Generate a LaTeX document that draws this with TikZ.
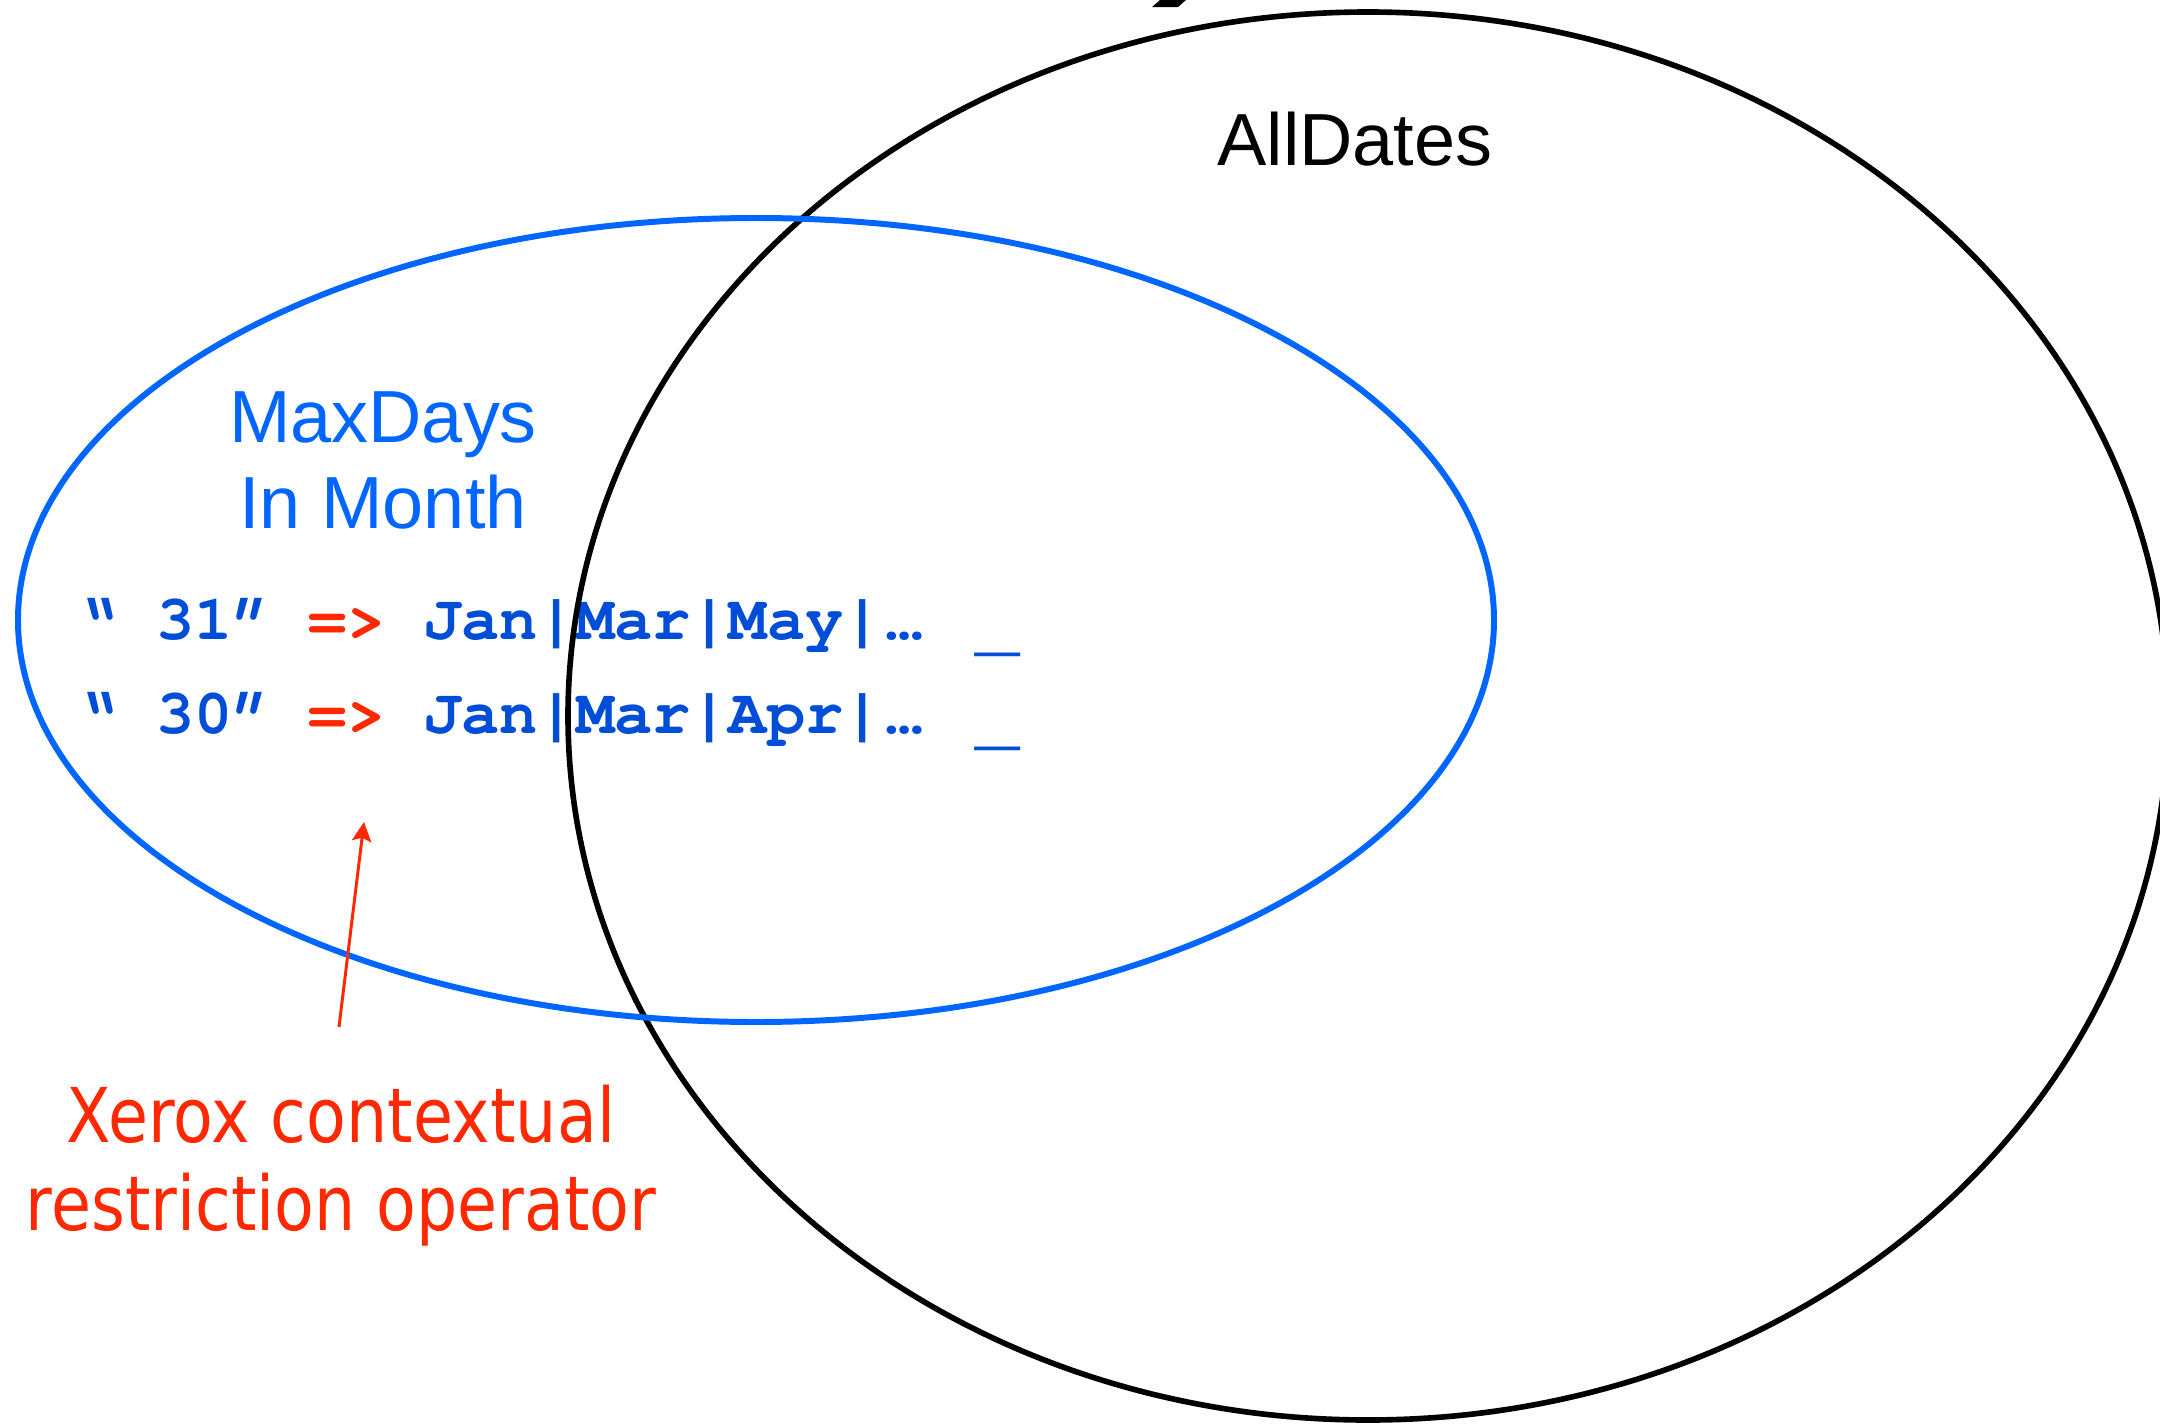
\documentclass[tikz,border=0pt]{standalone}
\usepackage{fontspec}
\setmainfont{Liberation Sans}
\newfontfamily\codefont{TeX Gyre Cursor}
\newfontfamily\notefont[FakeStretch=0.86]{DejaVu Sans}
\usetikzlibrary{arrows.meta}
\definecolor{setblue}{RGB}{0,102,255}
\definecolor{codeblue}{RGB}{0,78,216}
\definecolor{oprred}{RGB}{255,40,0}
\newcommand{\lowbar}{\raisebox{-2.5pt}{\fontsize{21}{21}\selectfont\_}}

\begin{document}
\begin{tikzpicture}[x=0.01cm, y=-0.01cm,
    setlabel/.style={inner sep=0pt, anchor=base, align=center, font=\fontsize{21}{24.2}\selectfont},
    codeline/.style={inner sep=0pt, anchor=base west, text=codeblue, font=\codefont\bfseries\fontsize{18.1}{20}\selectfont},
    notelabel/.style={inner sep=0pt, anchor=base, align=center, text=oprred, font=\notefont\fontsize{21.5}{24.75}\selectfont}]

    \useasboundingbox (0,0) rectangle (2160,1424);

    % Cut-off title fragment
    \fill (1160,0) -- (1186,0) -- (1178,7) -- (1152,7) -- cycle;

    % Restriction rules
    \node[codeline] (rule31) at (79,639) {“ 31” \textcolor{oprred}{=>} Jan|Mar|May|\hspace{1pt}…\hspace{4pt} \lowbar};
    \node[codeline] (rule30) at (79,733) {“ 30” \textcolor{oprred}{=>} Jan|Mar|Apr|\hspace{1pt}…\hspace{4pt} \lowbar};

    % AllDates set
    \draw[line width=1.6pt] (1368,716) ellipse[x radius=800, y radius=704];
    \node[setlabel] (alldates) at (1355,165) {AllDates};

    % MaxDaysInMonth set (base = last line)
    \draw[setblue, line width=1.7pt] (756,620) ellipse[x radius=738, y radius=402];
    \node[setlabel, text=setblue] (maxdays) at (383,528) {MaxDays\\In Month};

    % Operator note
    \node[notelabel] (xerox) at (341,1230) {Xerox contextual\\restriction operator};
    \coordinate (optail) at (339,1027);
    \coordinate (optip) at (364,822);
    \draw[-{Stealth[length=5.5pt, width=5.5pt, inset=1pt]}, oprred, line width=0.85pt] (optail) -- (optip);

\end{tikzpicture}
\end{document}
